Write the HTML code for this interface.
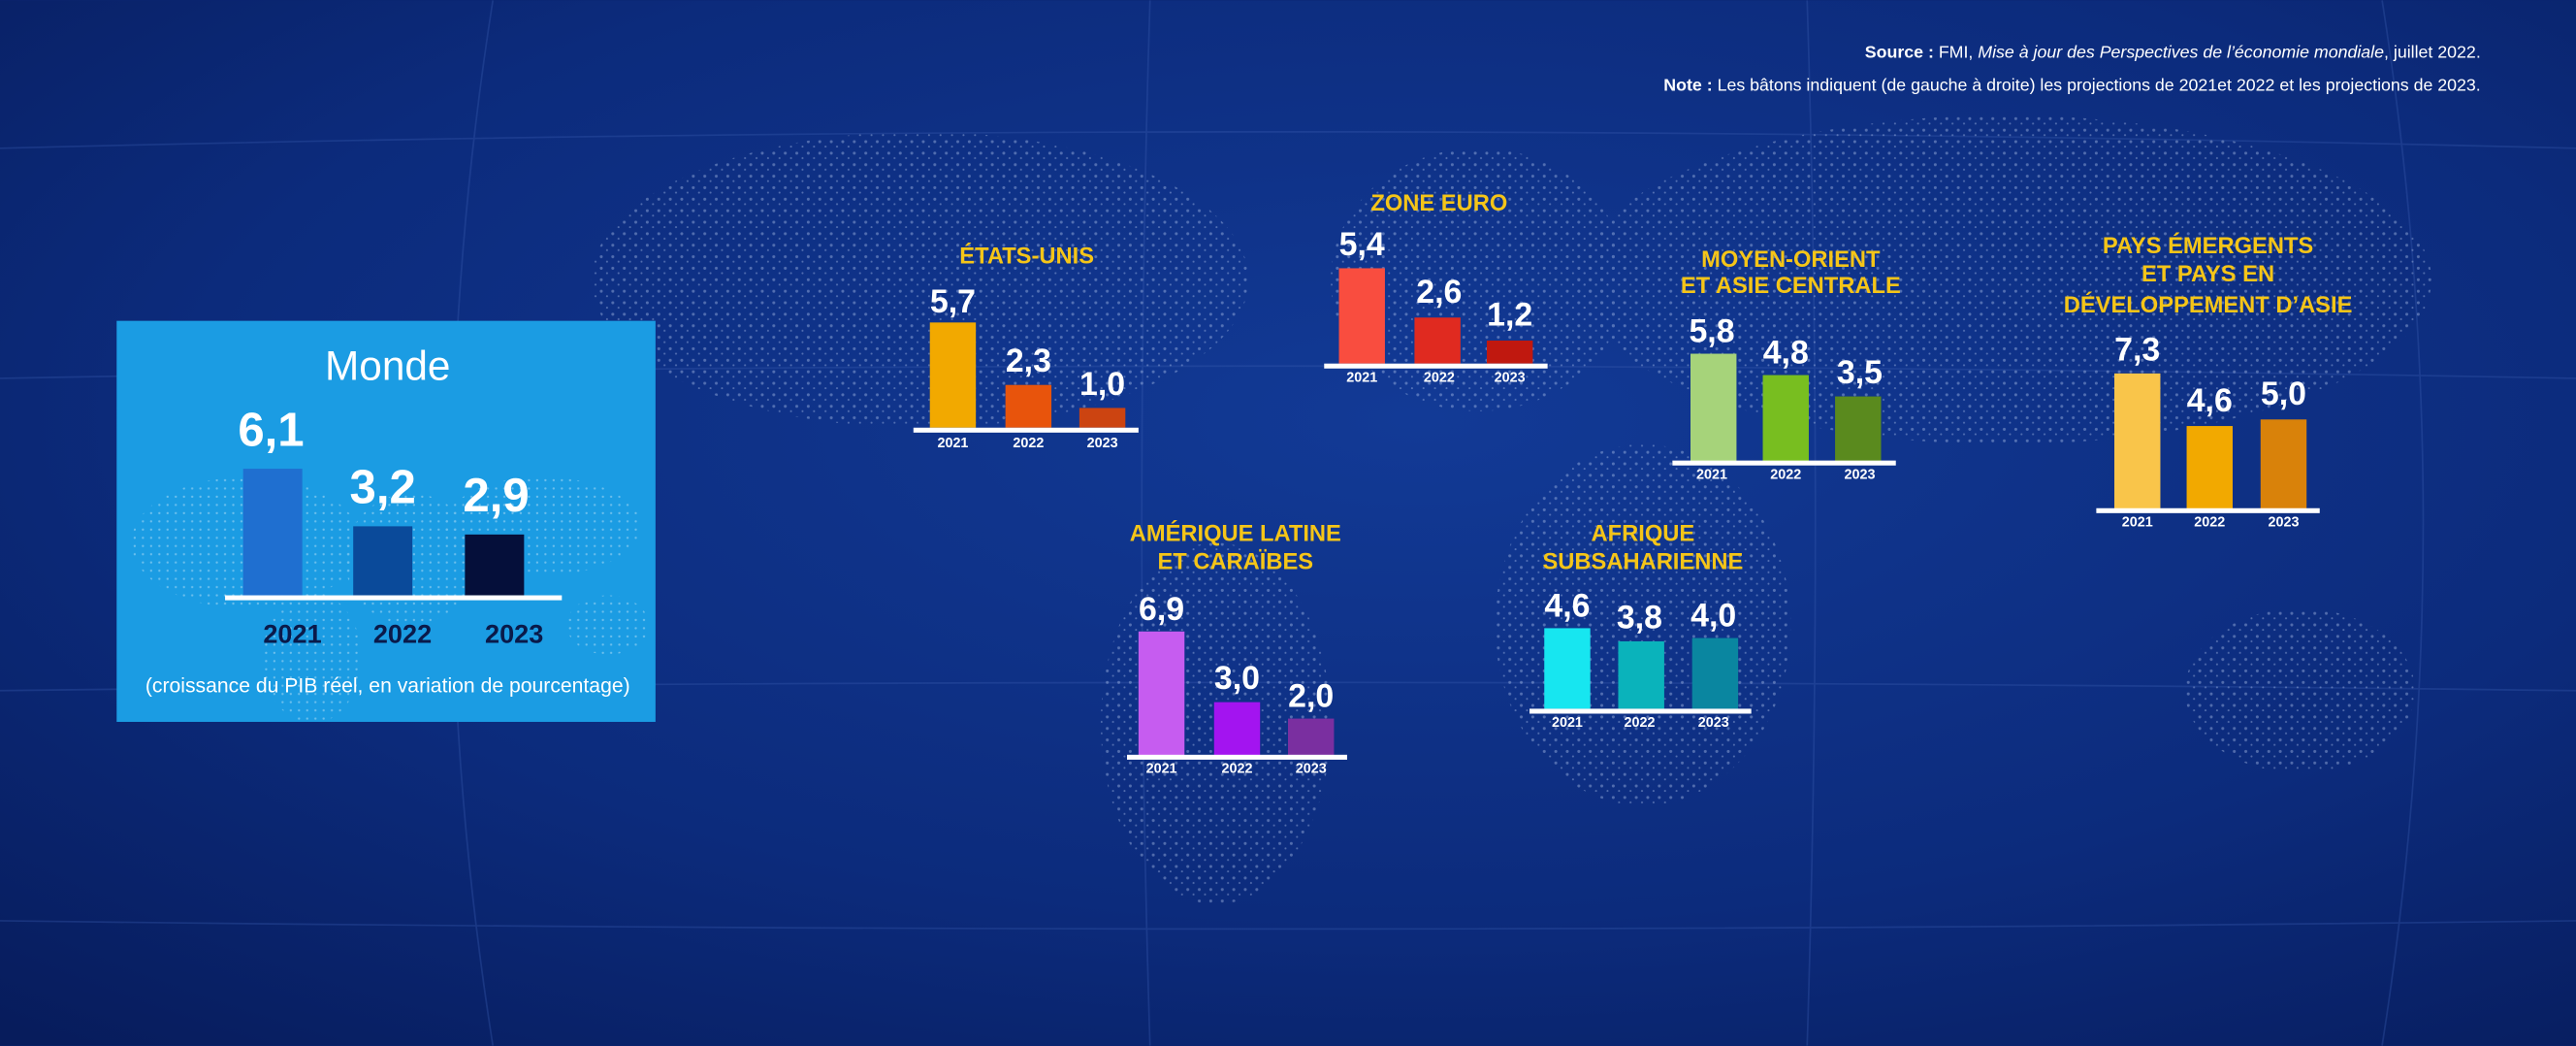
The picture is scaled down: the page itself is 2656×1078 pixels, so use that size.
<!DOCTYPE html>
<html><head><meta charset="utf-8"><style>
html,body{margin:0;padding:0;background:#0a2470;}
svg{display:block}
text{font-family:"Liberation Sans",sans-serif}
.v{fill:#fff;font-weight:bold;font-size:20px;text-anchor:middle}
.y{fill:#fff;font-weight:bold;font-size:8.5px;text-anchor:middle}
.t{fill:#f5c518;font-weight:bold;font-size:14px;text-anchor:middle}
</style></head><body>
<svg width="2656" height="1078" viewBox="0 0 1568 636" xmlns="http://www.w3.org/2000/svg">
<defs>
<radialGradient id="bg" cx="0.55" cy="0.4" r="0.8">
<stop offset="0" stop-color="#123a96"/><stop offset="0.6" stop-color="#0c2b7c"/><stop offset="1" stop-color="#071c5c"/>
</radialGradient>
<pattern id="dots" width="7" height="7" patternUnits="userSpaceOnUse">
<circle cx="2" cy="2" r="0.9" fill="#cfe0ff"/><circle cx="5.5" cy="5" r="0.6" fill="#cfe0ff"/>
</pattern>
<pattern id="dots2" width="5" height="5" patternUnits="userSpaceOnUse">
<circle cx="2" cy="2" r="0.7" fill="#ffffff"/>
</pattern>
</defs>
<rect width="1568" height="636" fill="url(#bg)"/>
<g stroke="#3a5cb0" stroke-width="1" opacity="0.35" fill="none">
<path d="M0 90 Q784 70 1568 90"/><path d="M0 230 Q784 215 1568 230"/><path d="M0 420 Q784 410 1568 420"/><path d="M0 560 Q784 570 1568 560"/>
<path d="M300 0 Q250 318 300 636"/><path d="M700 0 Q690 318 700 636"/><path d="M1100 0 Q1110 318 1100 636"/><path d="M1450 0 Q1500 318 1450 636"/>
</g>
<g fill="url(#dots)" opacity="0.35">
<ellipse cx="560" cy="170" rx="200" ry="90"/>
<ellipse cx="740" cy="440" rx="70" ry="110"/>
<ellipse cx="900" cy="170" rx="90" ry="80"/>
<ellipse cx="1000" cy="380" rx="90" ry="110"/>
<ellipse cx="1220" cy="170" rx="260" ry="100"/>
<ellipse cx="1400" cy="420" rx="70" ry="50"/>
</g>
<text x="1510" y="35" font-size="10.5" fill="#fff" text-anchor="end"><tspan font-weight="bold">Source :</tspan> FMI, <tspan font-style="italic">Mise à jour des Perspectives de l’économie mondiale</tspan>, juillet 2022.</text>
<text x="1510" y="55" font-size="10.5" fill="#fff" text-anchor="end"><tspan font-weight="bold">Note :</tspan> Les bâtons indiquent (de gauche à droite) les projections de 2021et 2022 et les projections de 2023.</text>

<!-- Monde -->
<rect x="71" y="195" width="328" height="244" fill="#1b9ce3"/>
<g fill="url(#dots2)" opacity="0.35">
<ellipse cx="150" cy="330" rx="70" ry="40"/><ellipse cx="190" cy="400" rx="30" ry="40"/>
<ellipse cx="250" cy="340" rx="40" ry="40"/><ellipse cx="330" cy="320" rx="60" ry="30"/><ellipse cx="370" cy="380" rx="25" ry="18"/>
</g>
<text x="236" y="231" font-size="25" fill="#fff" text-anchor="middle">Monde</text>
<rect x="148" y="285" width="36" height="77" fill="#1f6fd0"/>
<rect x="215" y="320" width="36" height="42" fill="#0a4a9a"/>
<rect x="283" y="325" width="36" height="37" fill="#050f3a"/>
<rect x="137" y="362" width="205" height="3" fill="#fff"/>
<g fill="#fff" font-weight="bold" font-size="29" text-anchor="middle">
<text x="165" y="271">6,1</text><text x="233" y="306">3,2</text><text x="302" y="311">2,9</text></g>
<g fill="#0a1a4a" font-weight="bold" font-size="16" text-anchor="middle">
<text x="178" y="391">2021</text><text x="245" y="391">2022</text><text x="313" y="391">2023</text></g>
<text x="236" y="421" font-size="12.5" fill="#fff" text-anchor="middle">(croissance du PIB réel, en variation de pourcentage)</text>

<!-- Etats-Unis -->
<text class="t" x="625" y="160">ÉTATS-UNIS</text>
<rect x="566" y="196" width="28" height="64" fill="#f2a900"/>
<rect x="612" y="234" width="28" height="26" fill="#e8540c"/>
<rect x="657" y="248" width="28" height="12" fill="#cc4411"/>
<rect x="556" y="260" width="137" height="3" fill="#fff"/>
<text class="v" x="580" y="190">5,7</text><text class="v" x="626" y="226">2,3</text><text class="v" x="671" y="240">1,0</text>
<text class="y" x="580" y="272">2021</text><text class="y" x="626" y="272">2022</text><text class="y" x="671" y="272">2023</text>

<!-- Zone euro -->
<text class="t" x="876" y="128">ZONE EURO</text>
<rect x="815" y="163" width="28" height="58" fill="#f94d3f"/>
<rect x="861" y="193" width="28" height="28" fill="#e02a20"/>
<rect x="905" y="207" width="28" height="14" fill="#c0180f"/>
<rect x="806" y="221" width="136" height="3" fill="#fff"/>
<text class="v" x="829" y="155">5,4</text><text class="v" x="876" y="184">2,6</text><text class="v" x="919" y="198">1,2</text>
<text class="y" x="829" y="232">2021</text><text class="y" x="876" y="232">2022</text><text class="y" x="919" y="232">2023</text>

<!-- Moyen-Orient -->
<text class="t" x="1090" y="162">MOYEN-ORIENT</text><text class="t" x="1090" y="178">ET ASIE CENTRALE</text>
<rect x="1029" y="215" width="28" height="66" fill="#a6d37a"/>
<rect x="1073" y="228" width="28" height="53" fill="#78be20"/>
<rect x="1117" y="241" width="28" height="40" fill="#5a8a1e"/>
<rect x="1018" y="280" width="136" height="3" fill="#fff"/>
<text class="v" x="1042" y="208">5,8</text><text class="v" x="1087" y="221">4,8</text><text class="v" x="1132" y="233">3,5</text>
<text class="y" x="1042" y="291">2021</text><text class="y" x="1087" y="291">2022</text><text class="y" x="1132" y="291">2023</text>

<!-- Asie -->
<text class="t" x="1344" y="154">PAYS ÉMERGENTS</text><text class="t" x="1344" y="171">ET PAYS EN</text><text class="t" x="1344" y="190">DÉVELOPPEMENT D’ASIE</text>
<rect x="1287" y="227" width="28" height="83" fill="#f9c54a"/>
<rect x="1331" y="259" width="28" height="51" fill="#f2a900"/>
<rect x="1376" y="255" width="28" height="55" fill="#d9820a"/>
<rect x="1276" y="309" width="136" height="3" fill="#fff"/>
<text class="v" x="1301" y="219">7,3</text><text class="v" x="1345" y="250">4,6</text><text class="v" x="1390" y="246">5,0</text>
<text class="y" x="1301" y="320">2021</text><text class="y" x="1345" y="320">2022</text><text class="y" x="1390" y="320">2023</text>

<!-- Amerique latine -->
<text class="t" x="752" y="329">AMÉRIQUE LATINE</text><text class="t" x="752" y="346">ET CARAÏBES</text>
<rect x="693" y="384" width="28" height="76" fill="#c65cf0"/>
<rect x="739" y="427" width="28" height="33" fill="#a314f0"/>
<rect x="784" y="437" width="28" height="23" fill="#7a2fa0"/>
<rect x="686" y="459" width="134" height="3" fill="#fff"/>
<text class="v" x="707" y="377">6,9</text><text class="v" x="753" y="419">3,0</text><text class="v" x="798" y="430">2,0</text>
<text class="y" x="707" y="470">2021</text><text class="y" x="753" y="470">2022</text><text class="y" x="798" y="470">2023</text>

<!-- Afrique -->
<text class="t" x="1000" y="329">AFRIQUE</text><text class="t" x="1000" y="346">SUBSAHARIENNE</text>
<rect x="940" y="382" width="28" height="49" fill="#17e6f0"/>
<rect x="985" y="390" width="28" height="41" fill="#0ab3bb"/>
<rect x="1030" y="388" width="28" height="43" fill="#0a86a0"/>
<rect x="931" y="431" width="135" height="3" fill="#fff"/>
<text class="v" x="954" y="375">4,6</text><text class="v" x="998" y="382">3,8</text><text class="v" x="1043" y="381">4,0</text>
<text class="y" x="954" y="442">2021</text><text class="y" x="998" y="442">2022</text><text class="y" x="1043" y="442">2023</text>
</svg>
</body></html>
